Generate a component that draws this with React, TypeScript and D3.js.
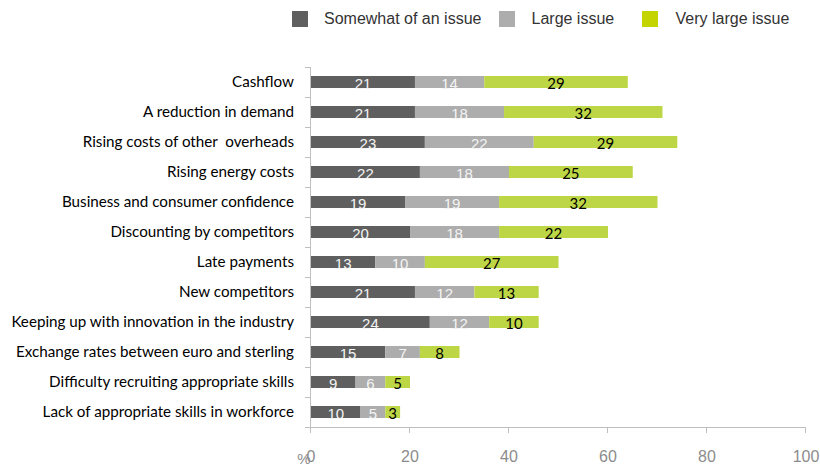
import React from "react";
import * as d3 from "d3";

const categories = [
  "Cashflow",
  "A reduction in demand",
  "Rising costs of other  overheads",
  "Rising energy costs",
  "Business and consumer confidence",
  "Discounting by competitors",
  "Late payments",
  "New competitors",
  "Keeping up with innovation in the industry",
  "Exchange rates between euro and sterling",
  "Difficulty recruiting appropriate skills",
  "Lack of appropriate skills in workforce",
];
const somewhat = [21, 21, 23, 22, 19, 20, 13, 21, 24, 15, 9, 10];
const large = [14, 18, 22, 18, 19, 18, 10, 12, 12, 7, 6, 5];
const veryLarge = [29, 32, 29, 25, 32, 22, 27, 13, 10, 8, 5, 3];
const seriesNames = ["Somewhat of an issue", "Large issue", "Very large issue"];
const xTicks = [0, 20, 40, 60, 80, 100];

const barColors = ["#5f5f5f", "#adadad", "#bdd646"];
const legendColors = ["#5f5f5f", "#adadad", "#c3d400"];
const labelColors = ["#f4f4f4", "#f4f4f4", "#000000"];

export default function App() {
  const left = 311;
  const right = 806;
  const top = 67;
  const bottom = 427;
  const x = d3.scaleLinear().domain([0, 100]).range([left, right]);
  const y = d3.scaleBand<string>().domain(categories).range([top, bottom]).paddingInner(0.6).paddingOuter(0.3);
  const band = d3.scaleBand<string>().domain(categories).range([top, bottom]);

  const rows = categories.map((c, i) => ({ cat: c, vals: [somewhat[i], large[i], veryLarge[i]] }));
  const stackData = rows.map((r) => {
    let acc = 0;
    return r.vals.map((v) => {
      const s = acc;
      acc += v;
      return [s, acc, v];
    });
  });

  const legendX = [292, 499, 642];
  const legendTextX = [324, 531.5, 675.5];

  return (
    <svg width={820} height={467} style={{ position: "absolute", left: 0, top: 0, background: "#fff" }}>
      {/* legend */}
      {seriesNames.map((n, i) => (
        <g key={n}>
          <rect x={legendX[i]} y={11} width={16} height={16} fill={legendColors[i]} />
          <text x={legendTextX[i]} y={24} fontFamily="Liberation Sans, Arial, sans-serif" fontSize={16} fill="#333">
            {n}
          </text>
        </g>
      ))}

      {/* y axis */}
      <line x1={310.5} x2={310.5} y1={top} y2={bottom} stroke="#bfbfbf" />
      {categories.map((c) => (
        <line key={c} x1={305} x2={310.5} y1={band(c)! + 0.5} y2={band(c)! + 0.5} stroke="#bfbfbf" />
      ))}
      <line x1={305} x2={310.5} y1={bottom + 0.5} y2={bottom + 0.5} stroke="#bfbfbf" />

      {/* x axis */}
      <line x1={left - 1} x2={right} y1={bottom + 0.5} y2={bottom + 0.5} stroke="#bfbfbf" />
      {xTicks.map((t) => (
        <g key={t}>
          <line x1={Math.round(x(t)) - 0.5} x2={Math.round(x(t)) - 0.5} y1={bottom} y2={bottom + 6} stroke="#bfbfbf" />
          <text
            x={x(t)}
            y={462}
            textAnchor="middle"
            fontFamily="Liberation Sans, Arial, sans-serif"
            fontSize={16}
            fill="#8c8c8c"
          >
            {t}
          </text>
        </g>
      ))}
      <text x={304} y={464} fontFamily="Liberation Sans, Arial, sans-serif" fontSize={15} fill="#8c8c8c" textAnchor="middle">
        %
      </text>

      {/* category labels */}
      {categories.map((c) => (
        <text
          key={c}
          x={294}
          y={y(c)! + y.bandwidth() / 2 + 5}
          textAnchor="end"
          fontFamily="Lato, sans-serif"
          fontSize={15.2}
          fill="#000"
          style={{ whiteSpace: "pre" }}
        >
          {c}
        </text>
      ))}

      {/* bars */}
      {rows.map((r, i) =>
        stackData[i].map(([s, e], j) => (
          <rect
            key={r.cat + j}
            x={x(s)}
            y={y(r.cat)!}
            width={x(e) - x(s)}
            height={y.bandwidth()}
            fill={barColors[j]}
          />
        ))
      )}
      {rows.map((r, i) =>
        stackData[i].map(([s, e, v], j) => (
          <text
            key={"l" + r.cat + j}
            x={(x(s) + x(e)) / 2}
            y={y(r.cat)! + y.bandwidth() / 2 + 6.5}
            textAnchor="middle"
            fontFamily={j === 2 ? "Lato, sans-serif" : "Liberation Sans, Arial, sans-serif"}
            fontSize={15}
            fill={labelColors[j]}
          >
            {v}
          </text>
        ))
      )}
    </svg>
  );
}
